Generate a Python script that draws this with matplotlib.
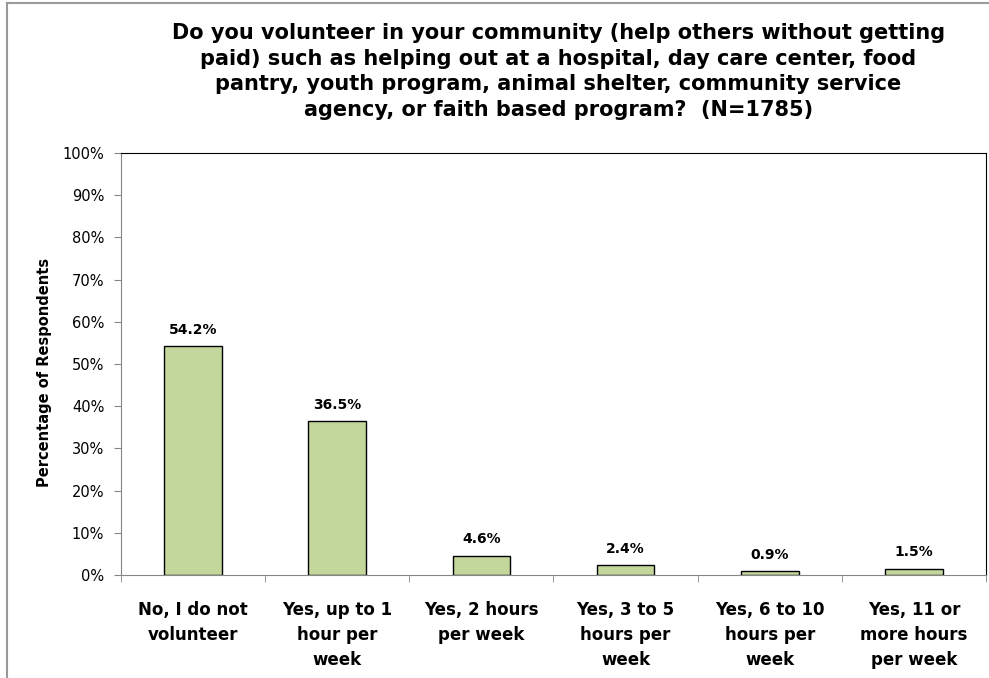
import numpy as np
import matplotlib.pyplot as plt
from matplotlib.lines import Line2D
from matplotlib.ticker import FuncFormatter, MultipleLocator

categories = ["No, I do not\nvolunteer", "Yes, up to 1\nhour per\nweek",
              "Yes, 2 hours\nper week", "Yes, 3 to 5\nhours per\nweek",
              "Yes, 6 to 10\nhours per\nweek", "Yes, 11 or\nmore hours\nper week"]
values = [54.2, 36.5, 4.6, 2.4, 0.9, 1.5]
title = ("Do you volunteer in your community (help others without getting\n"
         "paid) such as helping out at a hospital, day care center, food\n"
         "pantry, youth program, animal shelter, community service\n"
         "agency, or faith based program?  (N=1785)")

plt.rcParams['font.family'] = ['DejaVu Sans']

fig = plt.figure(figsize=(9.89, 6.78), dpi=100)
ax = fig.add_axes([0.1223, 0.1519, 0.8747, 0.6224])

x = np.arange(len(categories))
ax.bar(x, values, width=0.4, color='#C3D69B', edgecolor='black', linewidth=1.0, zorder=2)
for xi, v in zip(x, values):
    ax.text(xi, v + 2.2, f"{v:.1f}%", ha='center', va='bottom', fontsize=10, fontweight='bold')

ax.set_xlim(-0.5, len(categories) - 0.5)
ax.set_ylim(0, 100)
ax.yaxis.set_major_locator(MultipleLocator(10))
ax.yaxis.set_major_formatter(FuncFormatter(lambda v, p: f"{int(v)}%"))
ax.tick_params(axis='y', labelsize=10.5, length=5, color='#868686', pad=7)

# category names centred under bars, short ticks on the boundaries
ax.set_xticks(x)
ax.set_xticklabels(categories, fontsize=12, fontweight='bold', linespacing=1.47)
ax.tick_params(axis='x', length=0, pad=19)
ax.set_xticks(np.arange(-0.5, len(categories)), minor=True)
ax.tick_params(axis='x', which='minor', length=5, color='#868686')

for side in ['left', 'bottom']:
    ax.spines[side].set_color('#868686')
for side in ['top', 'right']:
    ax.spines[side].set_color('black')

ax.set_ylabel("Percentage of Respondents", fontsize=10.5, fontweight='bold')
ax.yaxis.set_label_coords(-0.0798, 0.479)
fig.text(0.5647, 1 - 23/678, title, ha='center', va='top', fontsize=15, fontweight='bold', linespacing=1.35)

# outer chart border (left and top edges only)
fig.add_artist(Line2D([7/989, 7/989], [0, 1 - 3/678], color='#9a9a9a', lw=1.5, transform=fig.transFigure))
fig.add_artist(Line2D([7/989, 1], [1 - 3/678, 1 - 3/678], color='#9a9a9a', lw=1.5, transform=fig.transFigure))

fig.savefig('out.png', dpi=100)
